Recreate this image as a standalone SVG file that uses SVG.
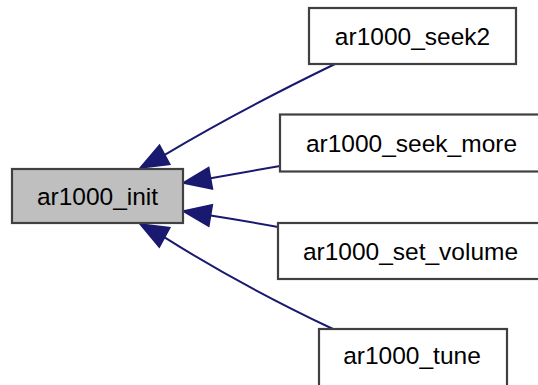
<svg xmlns="http://www.w3.org/2000/svg" width="538" height="385" viewBox="0 0 538 385">
<style>
.box{fill:#ffffff;stroke:#404040;stroke-width:2.2}
.root{fill:#bfbfbf}
.lbl{font-family:"Liberation Sans",Arial,sans-serif;font-size:24.5px;fill:#000;text-anchor:middle}
.edge{fill:none;stroke:#191970;stroke-width:2}
.head{fill:#191970;stroke:#191970;stroke-width:1.5}
</style>
<rect width="538" height="385" fill="#ffffff"/>
<g id="edges">
<path class="edge" d="M335,64 Q240,110 164.7,154.8"/>
<polygon class="head" points="140,168 169.9,164.5 159.5,145.1"/>
<path class="edge" d="M280,166 Q245,172 210.6,178.2"/>
<polygon class="head" points="183,183 212.5,189 208.7,167.4"/>
<path class="edge" d="M278,227 Q245,221 210.6,215.6"/>
<polygon class="head" points="183,211 208.8,226.4 212.4,204.8"/>
<path class="edge" d="M333,329 Q240,285 164.6,237.4"/>
<polygon class="head" points="140,224 159.3,247.1 169.9,227.7"/>
</g>
<g id="ar1000_init">
<rect class="box root" x="12" y="169" width="171" height="54"/>
<text class="lbl" x="97.5" y="204.5">ar1000_init</text>
</g>
<g id="ar1000_seek2">
<rect class="box" x="309" y="8" width="207" height="56"/>
<text class="lbl" x="412.5" y="44.5">ar1000_seek2</text>
</g>
<g id="ar1000_seek_more">
<rect class="box" x="280" y="114.5" width="270" height="57"/>
<text class="lbl" x="411.5" y="151.5">ar1000_seek_more</text>
</g>
<g id="ar1000_set_volume">
<rect class="box" x="278" y="223" width="272" height="56"/>
<text class="lbl" x="410.5" y="259.5">ar1000_set_volume</text>
</g>
<g id="ar1000_tune">
<rect class="box" x="319" y="329" width="188" height="60"/>
<text class="lbl" x="412" y="364">ar1000_tune</text>
</g>
</svg>
